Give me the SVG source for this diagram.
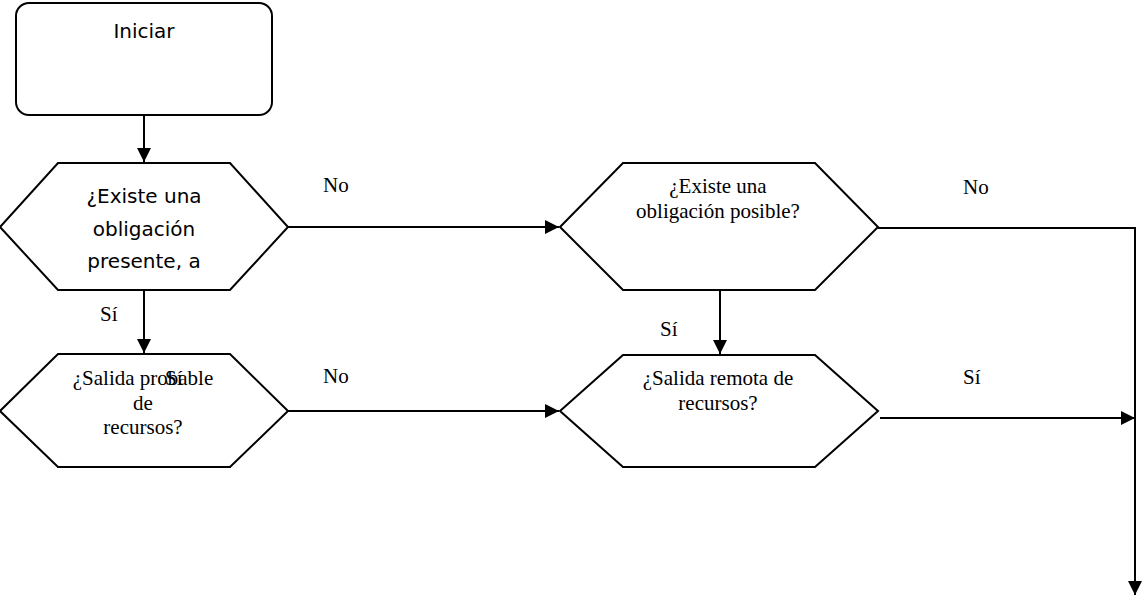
<svg xmlns="http://www.w3.org/2000/svg" width="1142" height="596" viewBox="0 0 1142 596">
<defs>
<marker id="arr" viewBox="0 0 14 14" refX="14" refY="7" markerWidth="14" markerHeight="14" markerUnits="userSpaceOnUse" orient="auto">
<path d="M0,0 L14,7 L0,14 z" fill="#000"/>
</marker>
<style>
.shape{fill:#fff;stroke:#000;stroke-width:2}
.edge{fill:none;stroke:#000;stroke-width:2;marker-end:url(#arr)}
.sans{font-family:"DejaVu Sans",Verdana,sans-serif;font-size:20px;fill:#000;text-anchor:middle}
.serif{font-family:"Liberation Serif","Times New Roman",serif;font-size:21px;fill:#000;text-anchor:middle}
.lbl{font-family:"Liberation Serif","Times New Roman",serif;font-size:21px;fill:#000}
</style>
</defs>
<rect width="1142" height="596" fill="#fff"/>
<g id="iniciar">
<rect class="shape" x="16" y="3" width="256" height="112" rx="13" ry="13"/>
<text class="sans" x="144" y="38">Iniciar</text>
</g>
<g id="existe-presente">
<polygon class="shape" points="0,227 58,163 230,163 288,227 230,290 58,290"/>
<text class="sans" x="144" y="203">¿Existe una</text>
<text class="sans" x="144" y="236">obligación</text>
<text class="sans" x="144" y="268">presente, a</text>
</g>
<g id="salida-probable">
<polygon class="shape" points="0,411 58,354 230,354 288,411 230,467 58,467"/>
<text class="serif" x="143" y="385">¿Salida probable</text>
<text class="serif" x="143" y="410">de</text>
<text class="serif" x="143" y="434">recursos?</text>
</g>
<g id="existe-posible">
<polygon class="shape" points="560,227 623,163 815,163 878,227 815,290 623,290"/>
<text class="serif" x="718" y="193">¿Existe una</text>
<text class="serif" x="718" y="218">obligación posible?</text>
</g>
<g id="salida-remota">
<polygon class="shape" points="560,411 623,355 815,355 878,411 815,467 623,467"/>
<text class="serif" x="718" y="385">¿Salida remota de</text>
<text class="serif" x="718" y="410">recursos?</text>
</g>
<g id="connectors">
<path class="edge" d="M144,115 L144,162"/>
<path class="edge" d="M288,227 L559,227"/>
<path class="edge" d="M144,290 L144,353"/>
<path class="edge" d="M288,411 L559,411"/>
<path class="edge" d="M720,290 L720,354"/>
<path class="edge" d="M878,228 L1135,228 L1135,595"/>
<path class="edge" d="M880,418 L1135,418"/>
<text class="lbl" x="323" y="192">No</text>
<text class="lbl" x="100" y="321">Sí</text>
<text class="lbl" x="323" y="383">No</text>
<text class="lbl" x="660" y="336">Sí</text>
<text class="lbl" x="963" y="194">No</text>
<text class="lbl" x="963" y="384">Sí</text>
<text class="lbl" x="165" y="385">Sí</text>
</g>
</svg>
